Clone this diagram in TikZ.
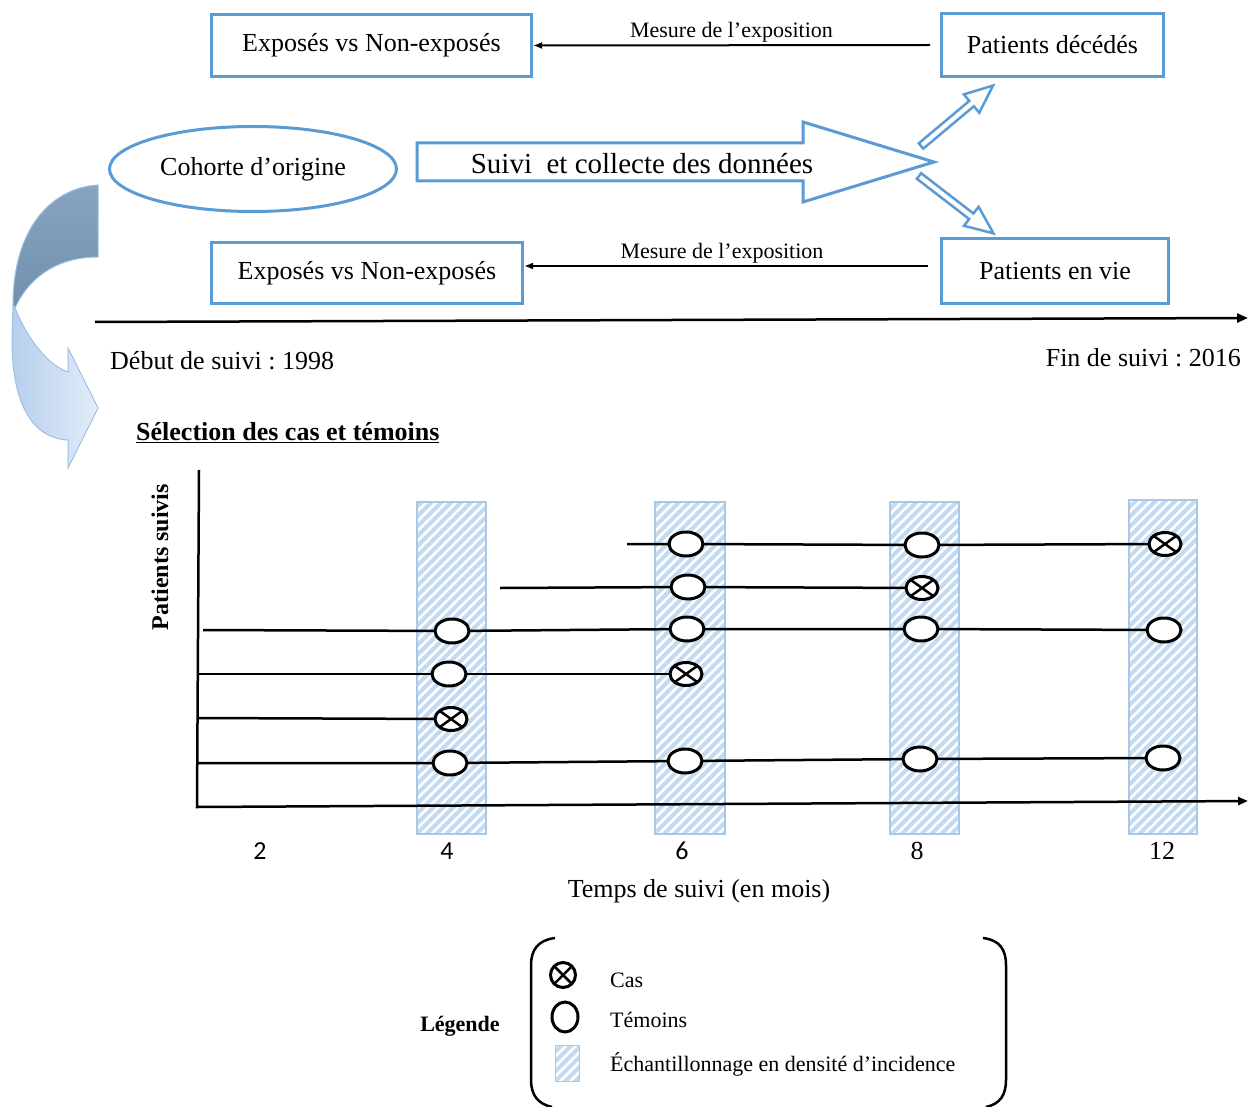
\documentclass[tikz,border=0pt]{standalone}
\usepackage{fontspec}
\setmainfont{Liberation Serif}
\newfontfamily\calib{Carlito}
\frenchspacing
\usetikzlibrary{shapes.geometric,arrows.meta,patterns.meta,calc}
\definecolor{bblue}{HTML}{5B9BD5}
\definecolor{barblue}{HTML}{C4DAF0}
\definecolor{baredge}{HTML}{A9C8E8}
\definecolor{darkarrA}{HTML}{88A3BF}
\definecolor{darkarrB}{HTML}{7190AE}
\definecolor{lightarrA}{HTML}{B6CFEC}
\definecolor{lightarrB}{HTML}{E3EDF9}
\definecolor{arredge}{HTML}{9CC0E4}
\begin{document}
\begin{tikzpicture}[x=1pt,y=-1pt,
  fs/.style={font=\fontsize{26}{30}\selectfont},
  box/.style={draw=bblue, line width=3pt, inner sep=0pt, fs},
  mes/.style={font=\fontsize{22}{26}\selectfont, inner sep=2pt},
  lgd/.style={font=\fontsize{22}{26}\selectfont, inner sep=0pt},
  ctrl/.style={ellipse, draw=black, line width=3pt, fill=white, minimum width=34pt, minimum height=24pt, inner sep=0pt},
  cas/.style={ctrl, minimum width=32pt, minimum height=23pt,
    path picture={\draw[line width=2.5pt] (path picture bounding box.north west) -- (path picture bounding box.south east) (path picture bounding box.north east) -- (path picture bounding box.south west);}},
  bar/.style={preaction={fill=barblue}, preaction={pattern={Lines[angle=45,distance=7pt,line width=2.6pt]}, pattern color=white}, draw=baredge, line width=1.5pt},
  patline/.style={line width=2.5pt, black},
  expo/.style={line width=2pt, -{Latex[length=9pt,width=7pt]}},
  hollow/.style={draw=bblue, line width=3pt, fill=white, line join=miter}
]
\useasboundingbox (0,0) rectangle (1252,1107);
\fill[white] (0,0) rectangle (1252,1107);

% ---- top part ----
\node[box, minimum width=320pt, minimum height=62pt] (e1) at (371.5,45.5) {Exposés vs Non-exposés};
\node[box, minimum width=222pt, minimum height=63pt] (pd) at (1052.5,45) {Patients décédés};
\node[box, minimum width=311pt, minimum height=61pt] (e2) at (367,273) {Exposés vs Non-exposés};
\node[box, minimum width=227pt, minimum height=65pt] (pv) at (1055,271) {Patients en vie};
\node[ellipse, draw=bblue, line width=3pt, minimum width=287pt, minimum height=85pt, inner sep=0pt, fs] (co) at (253,169) {Cohorte d’origine};

\draw[expo] ([xshift=-10pt]pd.west) -- node[mes, above] (m1) {Mesure de l’exposition} (e1.east);
\coordinate (m2s) at ([xshift=-12pt,yshift=5pt]pv.west);
\draw[expo] (m2s) -- node[mes, above, xshift=-4pt] (m2) {Mesure de l’exposition} (m2s -| e2.east);

% big arrow
\draw[hollow] (417,143) -- (803,143) -- (803,122) -- (934,162) -- (803,202) -- (803,181) -- (417,181) -- cycle;
\node[font=\fontsize{29}{33}\selectfont, inner sep=0pt] (sv) at (642,164) {Suivi\ \ et collecte des données};

% small hollow arrows
\begin{scope}[shift={(921,146)}, rotate=40]
  \draw[hollow, line width=2.5pt] (0,-3.5) -- (66,-3.5) -- (66,-12) -- (94,0) -- (66,12) -- (66,3.5) -- (0,3.5) -- cycle;
\end{scope}
\begin{scope}[shift={(919,176)}, rotate=-37.6]
  \draw[hollow, line width=2.5pt] (0,-3.5) -- (66,-3.5) -- (66,-12) -- (94,0) -- (66,12) -- (66,3.5) -- (0,3.5) -- cycle;
\end{scope}

% timeline
\coordinate (t0) at (95,322);
\coordinate (t1) at (1248,318);
\draw[line width=2.5pt, -{Triangle[length=11pt,width=9pt]}] (t0) -- (t1);
\node[fs, anchor=west, inner sep=0pt] (deb) at (110,361) {Début de suivi : 1998};
\node[fs, anchor=east, inner sep=0pt] (fin) at (1241,358) {Fin de suivi : 2016};

% curved arrow
\shadedraw[top color=darkarrA, bottom color=darkarrB, draw=arredge, line width=1pt]
  (98,185) .. controls (50,188) and (13,230) .. (13,305) -- (15,308)
  .. controls (30,275) and (60,257) .. (98,257) -- cycle;
\shadedraw[left color=lightarrA, right color=lightarrB, draw=arredge, line width=1pt]
  (15,308) .. controls (28,340) and (48,365) .. (68,372) -- (68,348) -- (98,408) -- (68,468) -- (68,440)
  .. controls (30,438) and (12,400) .. (12,340) -- (13,305) -- cycle;

% ---- selection ----
\node[font=\fontsize{26}{30}\selectfont\bfseries, anchor=west, inner sep=0pt] (sel) at (136,433) {\underline{Sélection des cas et témoins}};
\node[font=\fontsize{24}{28}\selectfont\bfseries, rotate=90, inner sep=0pt] (ps) at (160,557) {Patients suivis};

% bars
\draw[bar] (417,502) rectangle (486,834);
\draw[bar] (655,502) rectangle (725,834);
\draw[bar] (890,502) rectangle (959,834);
\draw[bar] (1129,500) rectangle (1197,834);

% axes
\coordinate (ytop) at (199,470);
\coordinate (orig) at (197,807);
\coordinate (xend) at (1248,801);
\draw[line width=2.5pt, -{Triangle[length=10pt,width=8pt]}] (ytop) -- (orig) -- (xend);

% marker positions
\coordinate (s1) at (627,544);
\coordinate (r1a) at (686,544);
\coordinate (r1b) at (922,545);
\coordinate (r1c) at (1165,544);
\coordinate (s2) at (500,588);
\coordinate (r2a) at (688,587);
\coordinate (r2b) at (922,588);
\coordinate (s3) at (203,630);
\coordinate (r3a) at (452,631);
\coordinate (r3b) at (687,629);
\coordinate (r3c) at (921,629);
\coordinate (r3d) at (1164,630);
\coordinate (s4) at (197,674);
\coordinate (r4a) at (449,674);
\coordinate (r4b) at (686,674);
\coordinate (s5) at (197,718);
\coordinate (r5a) at (451,719);
\coordinate (s6) at (197,763);
\coordinate (r6a) at (450,763);
\coordinate (r6b) at (685,761);
\coordinate (r6c) at (920,759);
\coordinate (r6d) at (1163,758);

\draw[patline] (s1) -- (r1a) -- (r1b) -- (r1c);
\draw[patline] (s2) -- (r2a) -- (r2b);
\draw[patline] (s3) -- (r3a) -- (r3b) -- (r3c) -- (r3d);
\draw[patline] (s4) -- (r4a) -- (r4b);
\draw[patline] (s5) -- (r5a);
\draw[patline] (s6) -- (r6a) -- (r6b) -- (r6c) -- (r6d);

\node[ctrl] (n1a) at (r1a) {};
\node[ctrl] (n1b) at (r1b) {};
\node[cas]  (n1c) at (r1c) {};
\node[ctrl] (n2a) at (r2a) {};
\node[cas]  (n2b) at (r2b) {};
\node[ctrl] (n3a) at (r3a) {};
\node[ctrl] (n3b) at (r3b) {};
\node[ctrl] (n3c) at (r3c) {};
\node[ctrl] (n3d) at (r3d) {};
\node[ctrl] (n4a) at (r4a) {};
\node[cas]  (n4b) at (r4b) {};
\node[cas]  (n5a) at (r5a) {};
\node[ctrl] (n6a) at (r6a) {};
\node[ctrl] (n6b) at (r6b) {};
\node[ctrl] (n6c) at (r6c) {};
\node[ctrl] (n6d) at (r6d) {};

% axis labels
\node[font=\calib\fontsize{26}{30}\selectfont] (l2) at (260,851) {2};
\node[font=\calib\fontsize{26}{30}\selectfont] (l4) at (447,851) {4};
\node[font=\calib\fontsize{26}{30}\selectfont] (l6) at (682,851) {6};
\node[fs] (l8) at (917,851) {8};
\node[fs] (l12) at (1162,851) {12};
\node[fs] (tps) at (699,891) {Temps de suivi (en mois)};

% ---- legend ----
\draw[line width=2.5pt] (555,938) .. controls (538,940) and (531,950) .. (531,965) -- (531,1080) .. controls (531,1095) and (538,1104) .. (552,1107);
\draw[line width=2.5pt] (983,938) .. controls (1000,940) and (1006,950) .. (1006,965) -- (1006,1080) .. controls (1006,1095) and (1000,1104) .. (986,1107);
\node[font=\fontsize{22}{26}\selectfont\bfseries] (lg) at (460,1026) {Légende};
\node[circle, draw, line width=3pt, minimum size=25pt, inner sep=0pt,
  path picture={\draw[line width=2.5pt] (path picture bounding box.north west) -- (path picture bounding box.south east) (path picture bounding box.north east) -- (path picture bounding box.south west);}] (lcas) at (563,975) {};
\node[ellipse, draw, line width=3pt, minimum width=26pt, minimum height=30pt, inner sep=0pt] (ltem) at (565,1017) {};
\draw[bar, line width=1pt] (555,1045) rectangle (579,1081);
\node[lgd, anchor=west] (tcas) at (610,980) {Cas};
\node[lgd, anchor=west] (ttem) at (610,1020) {Témoins};
\node[lgd, anchor=west] (tech) at (610,1064) {Échantillonnage en densité d’incidence};
\end{tikzpicture}
\end{document}
